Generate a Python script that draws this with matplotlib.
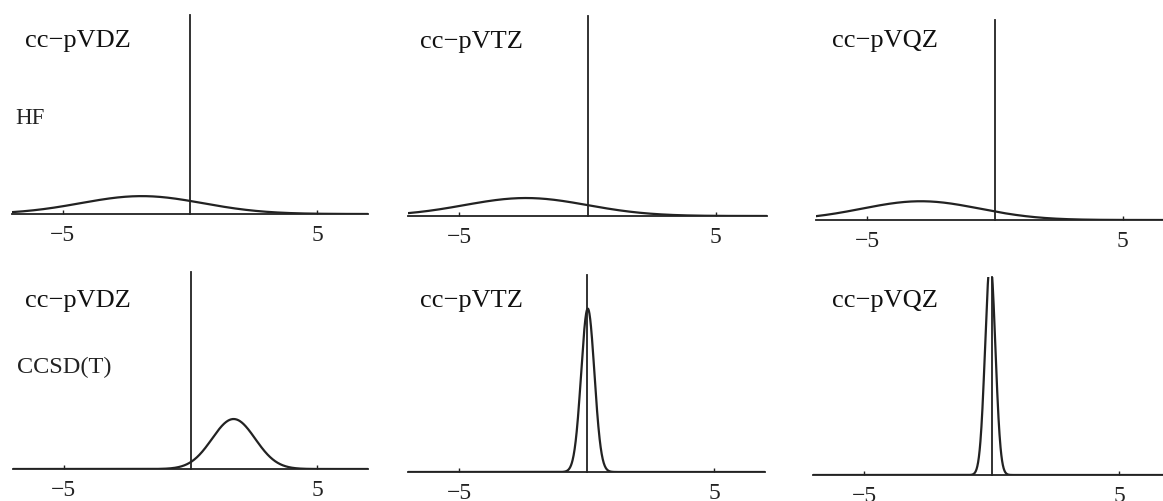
import numpy as np
import matplotlib
matplotlib.use('Agg')
import matplotlib.pyplot as plt

plt.rcParams['font.family'] = ['Liberation Serif', 'DejaVu Serif']

# mean and width of each error distribution (kcal/mol)
basis_sets = ['cc−pVDZ', 'cc−pVTZ', 'cc−pVQZ']
methods = ['HF', 'CCSD(T)']
hf_mean = [-1.9, -2.4, -2.9]
hf_sigma = [2.4, 2.4, 2.3]
cc_mean = [1.7, 0.05, -0.05]
cc_sigma = [0.85, 0.26, 0.2]
tick_values = [-5, 5]
tick_labels = ['−5', '5']

W, H = 1163, 502
fig = plt.figure(figsize=(W / 100, H / 100), dpi=100)

# panel boxes in pixels: left, right, top, axis line
boxes = [
    [(12, 368, 16, 215), (408, 767, 17, 217), (816, 1174, 21, 221)],
    [(13, 368, 273, 470), (408, 765, 276, 473), (813, 1170, 278, 476)],
]
label_pos = [
    [(25, 47), (420, 48), (832, 47)],
    [(25, 307), (420, 307), (832, 307)],
]

x = np.linspace(-7, 7, 1400)
ymax = 1.85

for row, (means, sigmas) in enumerate([(hf_mean, hf_sigma), (cc_mean, cc_sigma)]):
    for col in range(3):
        l, r, t, b = boxes[row][col]
        ax = fig.add_axes([l / W, 1 - b / H, (r - l) / W, (b - t) / H])
        mu, s = means[col], sigmas[col]
        y = np.exp(-(x - mu) ** 2 / (2 * s ** 2)) / (s * np.sqrt(2 * np.pi))
        ax.plot(x, y, color='#222222', lw=1.6)
        ax.set_xlim(-7, 7)
        ax.set_ylim(0, ymax)
        ax.spines['left'].set_position(('data', 0))
        ax.spines['bottom'].set_position(('data', 0))
        ax.spines['top'].set_visible(False)
        ax.spines['right'].set_visible(False)
        for sp in ['left', 'bottom']:
            ax.spines[sp].set_linewidth(1.3)
            ax.spines[sp].set_color('#222222')
        ax.set_yticks([])
        ax.set_xticks(tick_values)
        ax.set_xticklabels(tick_labels)
        ax.tick_params(axis='x', direction='in', length=3, width=1, pad=7,
                       labelsize=17, colors='#222222')
        ax.patch.set_alpha(0)
        lx, ly = label_pos[row][col]
        fig.text(lx / W, 1 - ly / H, basis_sets[col], fontsize=19,
                 va='baseline', ha='left', color='#111111')

fig.text(15 / W, 1 - 124 / H, methods[0], fontsize=16.5, va='baseline', color='#222222')
fig.text(17 / W, 1 - 373 / H, methods[1], fontsize=17.5, va='baseline', color='#222222')

fig.savefig('out.png', dpi=100)
